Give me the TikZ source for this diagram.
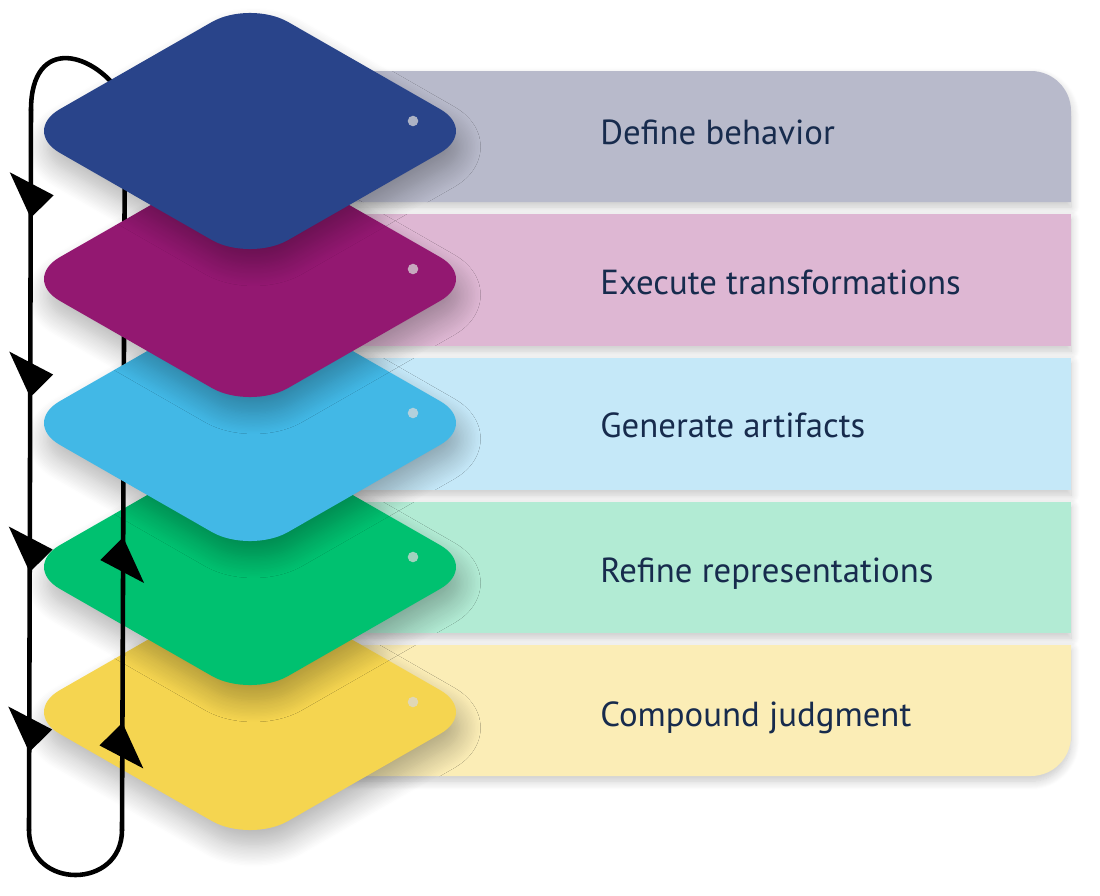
\documentclass[tikz,border=0pt]{standalone}
\usepackage{fontspec}
\setmainfont{PT Sans}
\usepackage{xcolor}
\usepackage{tikz}
\usetikzlibrary{shapes.geometric, decorations.markings, shadows.blur}

\definecolor{tilenavy}{HTML}{29448A}
\definecolor{tileplum}{HTML}{931871}
\definecolor{tilesky}{HTML}{42B8E6}
\definecolor{tilegreen}{HTML}{00C170}
\definecolor{tileyellow}{HTML}{F5D550}
\definecolor{bandnavy}{HTML}{B8BACB}
\definecolor{bandplum}{HTML}{DEB7D3}
\definecolor{bandsky}{HTML}{C5E8F8}
\definecolor{bandgreen}{HTML}{B2EBD4}
\definecolor{bandyellow}{HTML}{FBEDB6}
\definecolor{labelnavy}{HTML}{172B4D}

\newcommand{\loophead}{\fill (0pt,0pt) -- (-26pt,-12pt) -- (-13pt,13pt) -- cycle;}

\begin{document}
\begin{tikzpicture}[
    x=0.02cm, y=-0.02cm,
    tile/.style={diamond, minimum width=9.14cm, minimum height=5.24cm, inner sep=0pt, rounded corners=25pt,
        blur shadow={shadow xshift=2pt, shadow yshift=-9pt, shadow blur radius=12pt, shadow blur steps=16, shadow opacity=30}},
    band/.style={blur shadow={shadow xshift=0pt, shadow yshift=-3pt, shadow blur radius=5pt, shadow blur steps=10, shadow opacity=22}},
    dot/.style={circle, fill=gray!30, opacity=0.75, minimum size=6pt, inner sep=0pt},
    label text/.style={anchor=base west, inner sep=0pt, text=labelnavy, font=\fontsize{19.8}{24}\selectfont},
    flow/.style={line width=2.6pt, black, line cap=round},
    down marks/.style={postaction={decorate}, decoration={markings,
        mark=at position 0.150 with {\loophead}, mark=at position 0.399 with {\loophead},
        mark=at position 0.642 with {\loophead}, mark=at position 0.892 with {\loophead}}},
    up marks/.style={postaction={decorate}, decoration={markings,
        mark=at position 0.147 with {\loophead}, mark=at position 0.401 with {\loophead}}}
]
    \useasboundingbox (0,0) rectangle (1100,896);

    % bands behind the tiles
    \fill[band, bandnavy] (320,71) -- (1031,71) .. controls (1053,71) and (1071,89) .. (1071,111) -- (1071,202) -- (320,202) -- cycle;
    \fill[band, bandplum] (320,214) rectangle (1071,346);
    \fill[band, bandsky] (320,358) rectangle (1071,490);
    \fill[band, bandgreen] (320,502) rectangle (1071,633);
    \fill[band, bandyellow] (320,645) -- (1071,645) -- (1071,736) .. controls (1071,758) and (1053,776) .. (1031,776) -- (320,776) -- cycle;

    % lower tiles
    \node[tile, fill=tileyellow] (judgment tile) at (250,712) {};
    \node[dot] (judgment dot) at ([shift={(163,-10)}]judgment tile.center) {};
    \node[tile, fill=tilegreen] (refine tile) at (250,567) {};
    \node[dot] (refine dot) at ([shift={(163,-10)}]refine tile.center) {};

    % feedback loop
    \coordinate (loop tr) at (125,100);
    \coordinate (loop tl) at (31,110);
    \coordinate (loop bl) at (29,830);
    \coordinate (loop br) at (122,830);
    \draw[flow] (loop tr) .. controls (95,50) and (31,35) .. (loop tl);
    \draw[flow, down marks] (loop tl) -- (loop bl);
    \draw[flow] (loop bl) .. controls (29,890) and (122,890) .. (loop br);
    \draw[flow, up marks] (loop br) -- (loop tr);

    % upper tiles
    \node[tile, fill=tilesky] (generate tile) at (250,423) {};
    \node[dot] (generate dot) at ([shift={(163,-10)}]generate tile.center) {};
    \node[tile, fill=tileplum] (execute tile) at (250,279) {};
    \node[dot] (execute dot) at ([shift={(163,-10)}]execute tile.center) {};
    \node[tile, fill=tilenavy] (define tile) at (250,131) {};
    \node[dot] (define dot) at ([shift={(163,-10)}]define tile.center) {};

    \node[label text] (define) at (600,144) {Define behavior};
    \node[label text] (execute) at (600,294) {Execute transformations};
    \node[label text] (generate) at (600,437) {Generate artifacts};
    \node[label text] (refine) at (600,582) {Refine representations};
    \node[label text] (judgment) at (600,726) {Compound judgment};
\end{tikzpicture}
\end{document}
